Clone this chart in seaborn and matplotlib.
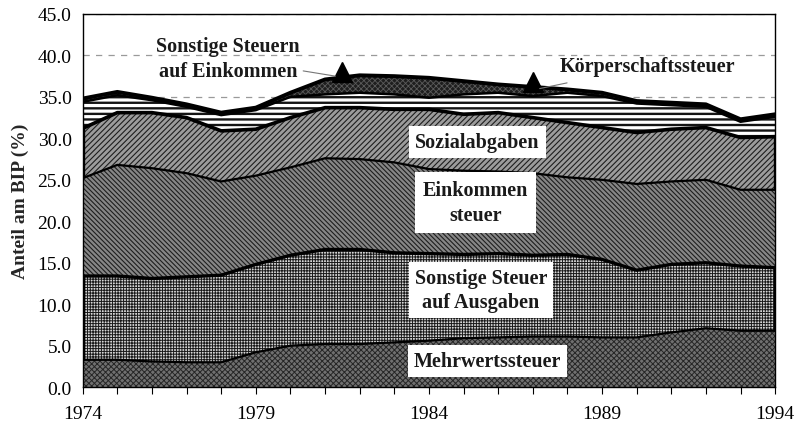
import numpy as np
import pandas as pd
import matplotlib
matplotlib.use("Agg")
import matplotlib.pyplot as plt
import seaborn as sns

years = list(range(1974, 1995))
mehrwertsteuer = [3.3, 3.3, 3.1, 3.0, 3.0, 4.2, 5.0, 5.2, 5.2, 5.4, 5.6, 5.9, 6.0, 6.1, 6.1, 6.0, 6.0, 6.6, 7.1, 6.8, 6.8]
sonst_ausgaben = [10.1, 10.1, 10.0, 10.3, 10.5, 10.6, 10.9, 11.4, 11.4, 10.8, 10.5, 10.1, 10.1, 9.8, 9.9, 9.4, 8.1, 8.2, 7.9, 7.8, 7.6]
einkommensteuer = [11.8, 13.4, 13.3, 12.5, 11.3, 10.7, 10.6, 11.0, 10.9, 10.9, 10.2, 10.1, 9.9, 9.9, 9.3, 9.6, 10.4, 10.0, 10.0, 9.2, 9.4]
sozialabgaben = [6.0, 6.3, 6.7, 6.7, 6.1, 5.6, 6.0, 6.1, 6.2, 6.4, 7.2, 6.8, 7.1, 6.7, 6.6, 6.3, 6.2, 6.3, 6.3, 6.3, 6.4]
koerperschaft = [3.2, 2.1, 1.5, 1.3, 1.9, 2.3, 2.5, 1.6, 1.8, 1.8, 1.4, 2.4, 2.4, 2.6, 3.6, 3.8, 3.5, 2.9, 2.5, 1.9, 2.4]
sonst_einkommen = [0.4, 0.4, 0.3, 0.3, 0.3, 0.3, 0.5, 1.8, 2.1, 2.2, 2.4, 1.6, 1.0, 1.1, 0.4, 0.4, 0.3, 0.3, 0.3, 0.3, 0.3]

x_ticks = [1974, 1979, 1984, 1989, 1994]
y_ticks = [0, 5, 10, 15, 20, 25, 30, 35, 40, 45]

# name, values, face, hatch, hatch colour, hatch linewidth, boundary linewidth
layers = [
    ("Mehrwertssteuer", mehrwertsteuer, "#707070", "xxxxxx", "#262626", 0.7, 1.6),
    ("Sonstige Steuer auf Ausgaben", sonst_ausgaben, "#d6d6d6", "++++++", "#1a1a1a", 0.7, 2.4),
    ("Einkommensteuer", einkommensteuer, "#868686", "\\\\\\\\\\\\\\", "#1e1e1e", 0.8, 1.6),
    ("Sozialabgaben", sozialabgaben, "#9c9c9c", "//////", "#1e1e1e", 0.8, 2.6),
    ("Körperschaftssteuer", koerperschaft, "#ffffff", "---", "#141414", 1.7, 1.8),
    ("Sonstige Steuern auf Einkommen", sonst_einkommen, "#1e1e1e", "xxxxxx", "#5a5a5a", 0.6, 2.8),
]

sns.set_theme(style="white")
plt.rcParams["font.family"] = ["Liberation Serif", "DejaVu Serif"]

fig = plt.figure(figsize=(7.95, 4.27), dpi=100)
ax = fig.add_axes([0.104, 0.091, 0.871, 0.874])

lower = np.zeros(len(years))
bounds = []
for name, vals, face, hatch, hcol, hlw, lw in layers:
    upper = lower + np.array(vals)
    with plt.rc_context({"hatch.linewidth": hlw}):
        coll = ax.fill_between(years, lower, upper, facecolor=face, edgecolor=hcol,
                               hatch=hatch, linewidth=0, zorder=2)
    try:
        coll.set_hatch_linewidth(hlw)
    except Exception:
        pass
    bounds.append((lower.copy(), upper.copy(), lw))
    lower = upper

for lo, up, lw in bounds:
    sns.lineplot(x=years, y=up, color="black", linewidth=lw, ax=ax, zorder=3)

total = bounds[-1][1]
for idx in (0, -1):
    ax.vlines(years[idx], bounds[0][1][idx], bounds[1][1][idx], color="black", lw=2.4, zorder=3)
    ax.vlines(years[idx], bounds[2][1][idx], bounds[3][1][idx], color="black", lw=2.4, zorder=3)

ax.set_xlim(1974, 1994)
ax.set_ylim(0, 45)
ax.set_xticks(x_ticks)
ax.set_xticks(years, minor=True)
ax.set_yticks(y_ticks)
ax.set_yticklabels([f"{v:.1f}" for v in y_ticks])
ax.tick_params(axis="x", which="both", direction="out", length=5, width=0.8, colors="black",
               bottom=True, labelsize=14, pad=8)
ax.tick_params(axis="y", length=0, labelsize=14, pad=8, colors="black")
ax.set_ylabel("Anteil am BIP (%)", fontsize=14, fontweight="bold", labelpad=6)
ax.set_xlabel("")

ax.yaxis.grid(True, linestyle=(0, (5, 5)), color="#9a9a9a", linewidth=0.9)
ax.set_axisbelow(True)
for s in ax.spines.values():
    s.set_color("black")
    s.set_linewidth(1.0)
    s.set_visible(True)

bold = dict(fontsize=14.5, fontweight="bold", ha="center", va="center", color="#1a1a1a", zorder=5)
box = dict(boxstyle="square,pad=0.3", facecolor="white", edgecolor="none")
ax.text(1985.4, 29.6, "Sozialabgaben", bbox=box, **bold)
ax.text(1985.35, 22.3, "Einkommen\nsteuer", bbox=dict(boxstyle="square,pad=0.4", facecolor="white", edgecolor="none"), linespacing=1.35, **bold)
ax.text(1985.5, 11.7, "Sonstige Steuer\nauf Ausgaben", bbox=box, linespacing=1.3, **bold)
ax.text(1985.7, 3.1, "Mehrwertssteuer", bbox=box, **bold)

ax.annotate("Sonstige Steuern\nauf Einkommen", xy=(1981.3, 37.5), xytext=(1978.2, 39.6),
            ha="center", va="center", fontsize=14.5, fontweight="bold", color="#1a1a1a",
            linespacing=1.3,
            arrowprops=dict(arrowstyle="-", color="#777777", lw=0.8, shrinkA=62, shrinkB=0), zorder=5)
ax.annotate("Körperschaftssteuer", xy=(1987.2, 36.0), xytext=(1990.3, 38.7),
            ha="center", va="center", fontsize=14.5, fontweight="bold", color="#1a1a1a",
            arrowprops=dict(arrowstyle="-", color="#777777", lw=0.8, shrinkA=12, shrinkB=0), zorder=5)

for xm in (1981.5, 1987.0):
    ym = np.interp(xm, years, total) + 0.6
    ax.plot([xm], [ym], marker="^", ms=14, color="black", zorder=4)

fig.savefig("out.png", dpi=100)
